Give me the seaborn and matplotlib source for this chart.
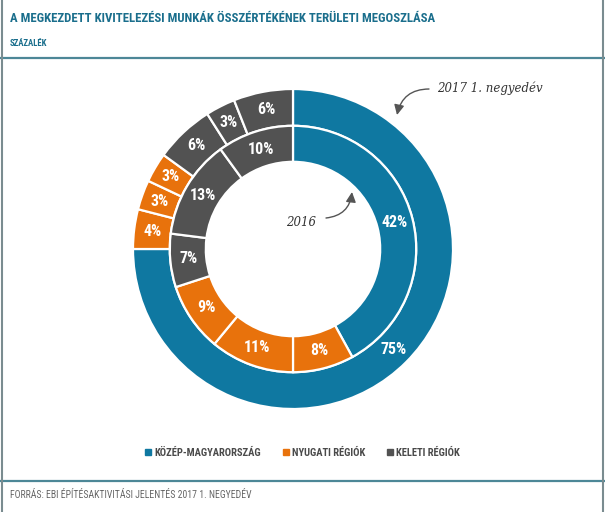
import matplotlib
matplotlib.use("Agg")
import matplotlib.pyplot as plt
from matplotlib import font_manager
from matplotlib.lines import Line2D
import seaborn as sns

sns.set_theme(style="white")

# pick the narrowest sans family that is installed
stretch = 'normal'
names = {f.name for f in font_manager.fontManager.ttflist}
cond = [f for f in font_manager.fontManager.ttflist
        if f.name == 'DejaVu Sans' and str(f.stretch) in ('condensed', 'semi-condensed')]
if 'Liberation Sans Narrow' in names:
    fam = 'Liberation Sans Narrow'
elif 'Roboto Condensed' in names:
    fam = 'Roboto Condensed'
elif cond:
    fam = 'DejaVu Sans'
    stretch = 'condensed'
else:
    fam = 'Roboto'
narrow = fam not in ('Roboto',)
plt.rcParams['font.family'] = [fam, 'DejaVu Sans']
plt.rcParams['font.stretch'] = stretch

# data
regions = ['KÖZÉP-MAGYARORSZÁG', 'NYUGATI RÉGIÓK', 'KELETI RÉGIÓK']
region_colors = ['#0f78a1', '#e8720c', '#525252']

outer_vals = [75, 4, 3, 3, 6, 3, 6]      # 2017 1. negyedév
outer_region = [0, 1, 1, 1, 2, 2, 2]
inner_vals = [42, 8, 11, 9, 7, 13, 10]   # 2016
inner_region = [0, 1, 1, 1, 2, 2, 2]

title = 'A MEGKEZDETT KIVITELEZÉSI MUNKÁK ÖSSZÉRTÉKÉNEK TERÜLETI MEGOSZLÁSA'
subtitle = 'SZÁZALÉK'
source = 'FORRÁS: EBI ÉPÍTÉSAKTIVITÁSI JELENTÉS 2017 1. NEGYEDÉV'

k = 1.0 if narrow else 0.8   # shrink when no condensed face exists

W, H = 605, 512
fig = plt.figure(figsize=(W / 100, H / 100), dpi=100)
fig.patch.set_facecolor('white')

# pie axes: centre (293, 249) px, radius 160 px
cx, cy, R = 293, 249, 160
half = 170
ax = fig.add_axes([(cx - half) / W, (H - cy - half) / H, 2 * half / W, 2 * half / H])

wp = dict(edgecolor='white', linewidth=1.6)
tp = dict(color='white', fontsize=11.5 * k, fontweight='bold')
ax.pie(outer_vals, radius=1.0, startangle=90, counterclock=False,
       colors=[region_colors[i] for i in outer_region],
       autopct='%d%%', pctdistance=0.885,
       wedgeprops=dict(width=0.23, **wp), textprops=tp)
ax.pie(inner_vals, radius=0.77, startangle=90, counterclock=False,
       colors=[region_colors[i] for i in inner_region],
       autopct='%d%%', pctdistance=0.85,
       wedgeprops=dict(width=0.225, **wp), textprops=tp)
lim = half / R
ax.set_xlim(-lim, lim)
ax.set_ylim(-lim, lim)
ax.set_axis_off()

# annotations (handwritten-style callouts)
def px(x, y):
    return ((x - cx) / R, (cy - y) / R)

note = dict(fontsize=8.5, style='italic', color='#333333', family='DejaVu Serif',
            ha='left', va='center')
arrow = dict(arrowstyle='-|>,head_length=0.5,head_width=0.25', color='#555555', lw=1,
             shrinkA=0, shrinkB=0)
ax.text(*px(437, 88), '2017 1. negyedév', **note)
ax.annotate('', xy=px(397, 115), xytext=px(429, 89),
            arrowprops=dict(connectionstyle='arc3,rad=0.4', **arrow))
ax.text(*px(286, 222), '2016', **note)
ax.annotate('', xy=px(352, 192), xytext=px(326, 218),
            arrowprops=dict(connectionstyle='arc3,rad=0.4', **arrow))

# header / footer texts
fig.text(10 / W, 1 - 19 / H, title, fontsize=9.2 * k, fontweight='bold',
         color='#1a6e8c', ha='left', va='center')
fig.text(10 / W, 1 - 43 / H, subtitle, fontsize=6.3 * k, fontweight='bold',
         color='#1a6e8c', ha='left', va='center')
fig.text(10 / W, 1 - 495 / H, source, fontsize=7 * k, color='#666666',
         ha='left', va='center')

# frame lines
line_c = '#4d8797'
for y in (58, 481):
    fig.add_artist(Line2D([0, 1], [1 - y / H, 1 - y / H], color=line_c, lw=1.6))
fig.add_artist(Line2D([1.5 / W, 1.5 / W], [0, 1], color='#7a8c90', lw=1.5))
fig.add_artist(Line2D([1 - 2 / W, 1 - 2 / W], [0, 1], color='#7a8c90', lw=1.5))

# legend
handles = [Line2D([], [], marker='s', ls='', markersize=4, color=c) for c in region_colors]
fig.legend(handles, regions, loc='center', bbox_to_anchor=(0.5, 1 - 453 / H),
           ncol=3, frameon=False, handlelength=0.6, handletextpad=0.3,
           columnspacing=2.0, prop=dict(size=7.6 * k, weight='bold'),
           labelcolor='#4a4a4a')

fig.savefig('out.png', dpi=100)
